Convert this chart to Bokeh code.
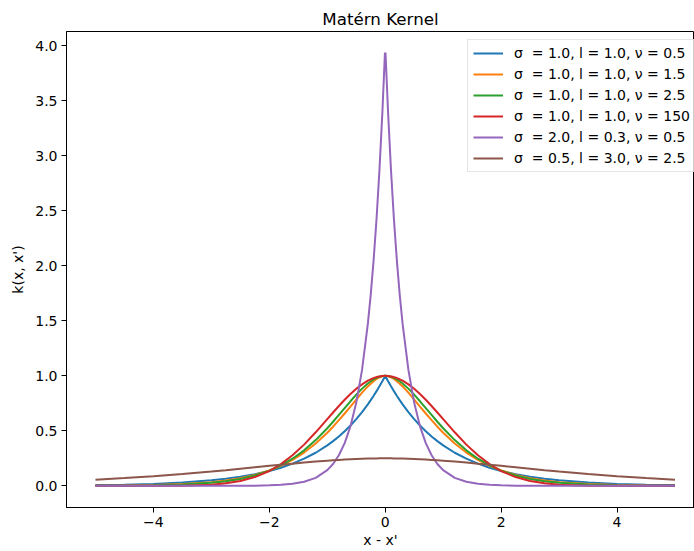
from bokeh.plotting import figure
from bokeh.models import FixedTicker, Legend
from bokeh.embed import file_html
from bokeh.resources import INLINE

# distances |x - x'| at which curves were read (curves are symmetric about 0)
r = [0.005, 0.05, 0.1, 0.15, 0.2, 0.25, 0.3, 0.4, 0.5, 0.6, 0.7, 0.8, 0.9, 1.0,
     1.2, 1.4, 1.6, 1.8, 2.0, 2.25, 2.5, 2.75, 3.0, 3.5, 4.0, 4.5, 5.0]

k_s1_l1_n05 = [0.995, 0.951, 0.905, 0.861, 0.819, 0.779, 0.741, 0.670, 0.607, 0.549, 0.497, 0.449,
               0.407, 0.368, 0.301, 0.247, 0.202, 0.165, 0.135, 0.105, 0.082, 0.064, 0.050, 0.030,
               0.018, 0.011, 0.007]
k_s1_l1_n15 = [1.000, 0.996, 0.987, 0.972, 0.952, 0.929, 0.904, 0.847, 0.785, 0.721, 0.658, 0.597,
               0.538, 0.483, 0.385, 0.303, 0.236, 0.182, 0.140, 0.100, 0.070, 0.049, 0.034, 0.016,
               0.008, 0.004, 0.002]
k_s1_l1_n25 = [1.000, 0.998, 0.992, 0.982, 0.968, 0.951, 0.931, 0.884, 0.829, 0.769, 0.707, 0.645,
               0.583, 0.524, 0.416, 0.323, 0.247, 0.186, 0.139, 0.094, 0.063, 0.042, 0.028, 0.012,
               0.005, 0.002, 0.001]
k_s1_l1_n150 = [1.000, 0.999, 0.995, 0.989, 0.980, 0.969, 0.956, 0.923, 0.883, 0.835, 0.783, 0.726,
                0.667, 0.607, 0.487, 0.375, 0.278, 0.198, 0.135, 0.080, 0.044, 0.023, 0.011, 0.002,
                0.000, 0.000, 0.000]
k_s2_l03_n05 = [3.934, 3.386, 2.866, 2.426, 2.054, 1.738, 1.472, 1.054, 0.755, 0.541, 0.388, 0.278,
                0.199, 0.143, 0.073, 0.038, 0.019, 0.010, 0.005, 0.002, 0.001, 0.000, 0.000, 0.000,
                0.000, 0.000, 0.000]
k_s05_l3_n25 = [0.250, 0.250, 0.250, 0.2495, 0.249, 0.2486, 0.248, 0.246, 0.244, 0.242, 0.239, 0.236,
                0.233, 0.229, 0.221, 0.212, 0.202, 0.192, 0.182, 0.169, 0.156, 0.143, 0.131, 0.108,
                0.088, 0.071, 0.056]

labels = ["σ\u00a0 = 1.0, l = 1.0, ν = 0.5",
          "σ\u00a0 = 1.0, l = 1.0, ν = 1.5",
          "σ\u00a0 = 1.0, l = 1.0, ν = 2.5",
          "σ\u00a0 = 1.0, l = 1.0, ν = 150",
          "σ\u00a0 = 2.0, l = 0.3, ν = 0.5",
          "σ\u00a0 = 0.5, l = 3.0, ν = 2.5"]
colors = ["#1f77b4", "#ff7f0e", "#2ca02c", "#d62728", "#9467bd", "#8c564b"]
series = [k_s1_l1_n05, k_s1_l1_n15, k_s1_l1_n25, k_s1_l1_n150, k_s2_l03_n05, k_s05_l3_n25]

x_ticks = [-4, -2, 0, 2, 4]
x_tick_labels = {-4: "−4", -2: "−2", 0: "0", 2: "2", 4: "4"}
y_ticks = [0.0, 0.5, 1.0, 1.5, 2.0, 2.5, 3.0, 3.5, 4.0]

x_full = [-v for v in r[::-1]] + list(r)

FONT = "DejaVu Sans"

p = figure(width=694, height=551, output_backend="svg", toolbar_location=None,
           x_range=(-5.5, 5.337), y_range=(-0.1967, 4.1306),
           min_border_left=66, min_border_right=0, min_border_top=31, min_border_bottom=44,
           title="Matérn Kernel")
p.background_fill_color = "white"
p.border_fill_color = "white"
p.outline_line_color = "black"
p.outline_line_width = 1
p.xgrid.grid_line_color = None
p.ygrid.grid_line_color = None

p.title.text_font = FONT
p.title.text_font_size = "16.7px"
p.title.text_font_style = "normal"
p.title.text_color = "black"
p.title.align = "center"
p.title.offset = 4
p.title.standoff = 6

for ax in (p.xaxis[0], p.yaxis[0]):
    ax.axis_line_color = "black"
    ax.major_tick_line_color = "black"
    ax.major_tick_out = 5
    ax.major_tick_in = 0
    ax.minor_tick_line_color = None
    ax.major_label_text_font = FONT
    ax.major_label_text_font_size = "14px"
    ax.major_label_text_color = "black"
    ax.axis_label_text_font = FONT
    ax.axis_label_text_font_size = "14px"
    ax.axis_label_text_font_style = "normal"
    ax.axis_label_text_color = "black"
    ax.major_label_standoff = 4

p.xaxis.ticker = FixedTicker(ticks=x_ticks)
p.xaxis.major_label_overrides = x_tick_labels
p.xaxis.axis_label = "x - x'"
p.xaxis.axis_label_standoff = 2
p.yaxis.ticker = FixedTicker(ticks=y_ticks)
p.yaxis.major_label_overrides = {v: f"{v:.1f}" for v in y_ticks}
p.yaxis.axis_label = "k(x, x')"
p.yaxis.axis_label_standoff = 6

items = []
for lab, col, half in zip(labels, colors, series):
    y_full = list(half[::-1]) + list(half)
    rend = p.line(x_full, y_full, line_color=col, line_width=2)
    items.append((lab, [rend]))

legend = Legend(items=items, location=(401, 335))
legend.label_text_font = FONT
legend.label_text_font_size = "14px"
legend.label_text_color = "black"
legend.glyph_width = 30
legend.glyph_height = 16
legend.label_height = 16
legend.label_standoff = 11
legend.spacing = 5
legend.padding = 5
legend.margin = 0
legend.border_line_color = "#cccccc"
legend.border_line_width = 1
legend.background_fill_alpha = 0.8
p.add_layout(legend)

open("out.html", "w").write(file_html(p, INLINE))
